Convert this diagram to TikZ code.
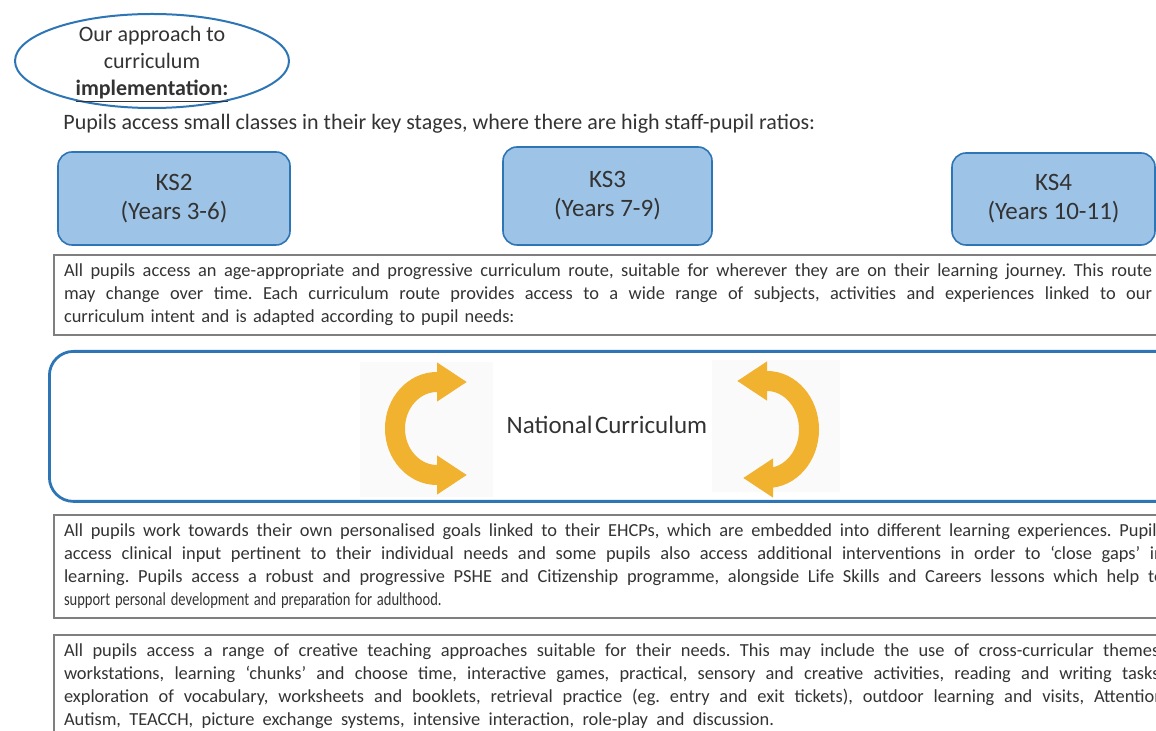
\documentclass[tikz,border=0pt]{standalone}
\usepackage{fontspec}
\usepackage{graphicx}
\setmainfont{Carlito}
\frenchspacing
\usetikzlibrary{
    arrows.meta,  % arrow tips
    positioning,  % better custom positioning
    shapes.geometric,  % ellipse
}
\definecolor{ksfill}{HTML}{9DC3E6}
\definecolor{ksline}{HTML}{2E75B6}
\definecolor{boxline}{HTML}{7F7F7F}
\definecolor{loopcol}{HTML}{F0B22F}
\definecolor{txt}{HTML}{333333}
% one justified line of a text box
\newcommand{\fullline}[2][\hsize]{\hbox to #1{\spaceskip=\fontdimen2\font plus 1fil\relax #2}}

\tikzset{
    ksbox/.style={draw=ksline, fill=ksfill, line width=0.8pt, rounded corners=7pt,
        align=center, text=txt, font=\fontsize{12.5}{14.5}\selectfont},
    infobox/.style={draw=boxline, line width=1pt, anchor=north west, inner xsep=5pt,
        inner ysep=4.5pt, text=txt, font=\fontsize{9.2}{11.5}\selectfont},
    loop/.style={loopcol, line width=10pt,
        {Triangle[width=18.5pt, length=15pt]}-{Triangle[width=18.5pt, length=15pt]}},
}

\begin{document}
\begin{tikzpicture}[x=0.5pt, y=-0.5pt]
    \clip (0, 0) rectangle (1156, 731);

    % heading
    \node[ellipse, draw=ksline, line width=1pt, minimum width=137pt, minimum height=47pt] (appr) at (152, 61) {};
    \node[align=center, text=txt, font=\fontsize{11}{13.3}\selectfont] (apprtext) at (152, 64.5)
        {Our approach to\\curriculum\\\underline{\textbf{implementation:}}};
    \node[anchor=base west, inner sep=0, text=txt, font=\fontsize{11}{13}\selectfont] (classes) at (63, 130)
        {Pupils access small classes in their key stages, where there are high staff-pupil ratios:};

    % key stages
    \node[ksbox, minimum width=116pt, minimum height=46.5pt] (ks2) at (174, 198.5) {KS2\\(Years 3-6)};
    \node[ksbox, minimum width=104.5pt, minimum height=49pt] (ks3) at (607.5, 196) {KS3\\(Years 7-9)};
    \node[ksbox, minimum width=101.5pt, minimum height=46pt] (ks4) at (1053.5, 199) {KS4\\(Years 10-11)};

    % curriculum route
    \node[infobox, text width=544pt] (route) at (53, 254) {%
        \fullline[544pt]{All pupils access an age-appropriate and progressive curriculum route, suitable for wherever they are on their learning journey. This route}
        \fullline[544pt]{may change over time. Each curriculum route provides access to a wide range of subjects, activities and experiences linked to our}
        curriculum intent and is adapted according to pupil needs:};

    % national curriculum
    \node[draw=ksline, line width=1.4pt, rounded corners=12pt, anchor=north west,
        minimum width=570pt, minimum height=75pt] (ncframe) at (48, 350) {};
    \fill[gray!4] (360, 362) rectangle (493, 497);
    \fill[gray!4] (712, 360) rectangle (840, 492);
    \draw[loop] (467, 382) -- (437, 382) arc[start angle=-90, end angle=-270, x radius=42, y radius=46.5] -- (467, 475);
    \draw[loop] (737, 381) -- (767, 381) arc[start angle=-90, end angle=90, x radius=42, y radius=48.5] -- (743, 478);
    \node[text=txt, font=\fontsize{12.5}{14}\selectfont] (nc) at (607, 425) {National\hspace{0.1em}Curriculum};

    % personal goals
    \node[infobox, text width=550pt] (goals) at (53, 514) {%
        \fullline[550pt]{All pupils work towards their own personalised goals linked to their EHCPs, which are embedded into different learning experiences. Pupils}
        \fullline[550pt]{access clinical input pertinent to their individual needs and some pupils also access additional interventions in order to ‘close gaps’ in}
        \fullline[550pt]{learning. Pupils access a robust and progressive PSHE and Citizenship programme, alongside Life Skills and Careers lessons which help to}
        \scalebox{0.79}[1]{support personal development and preparation for adulthood.}};

    % teaching approaches
    \node[infobox, text width=550pt] (teach) at (53, 634) {%
        \fullline[550pt]{All pupils access a range of creative teaching approaches suitable for their needs. This may include the use of cross-curricular themes,}
        \fullline[550pt]{workstations, learning ‘chunks’ and choose time, interactive games, practical, sensory and creative activities, reading and writing tasks,}
        \fullline[550pt]{exploration of vocabulary, worksheets and booklets, retrieval practice (eg. entry and exit tickets), outdoor learning and visits, Attention}
        \fullline[355pt]{Autism, TEACCH, picture exchange systems, intensive interaction, role-play and discussion.}};
\end{tikzpicture}
\end{document}
